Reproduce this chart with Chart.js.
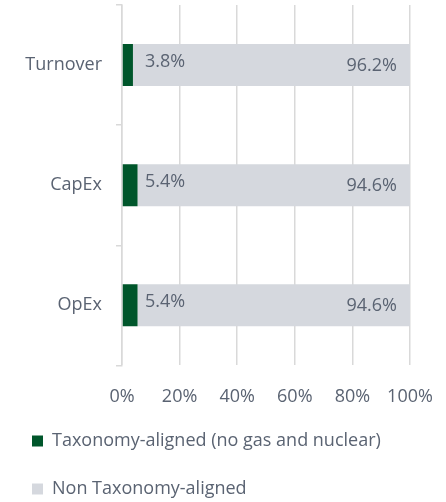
<!DOCTYPE html>
<html>
<head>
<meta charset="utf-8">
<script src="https://cdn.jsdelivr.net/npm/chart.js@4"></script>
<style>
  html, body { margin: 0; padding: 0; background: #fff; overflow: hidden; }
  #wrap { width: 446px; height: 508px; }
</style>
</head>
<body>
<div id="wrap"><canvas id="taxChart"></canvas></div>
<script>
const categories = ['Turnover', 'CapEx', 'OpEx'];
const alignedValues = [3.8, 5.4, 5.4];
const nonAlignedValues = [96.2, 94.6, 94.6];
const seriesNames = ['Taxonomy-aligned (no gas and nuclear)', 'Non Taxonomy-aligned'];

const textColor = '#5a6372';
const fontFamily = "'Open Sans', sans-serif";
const fontSize = 18;

// draws the percentage labels on the bars
const barLabels = {
  id: 'barLabels',
  afterDatasetsDraw(chart) {
    const c = chart.ctx;
    const x0 = chart.scales.x.getPixelForValue(0);
    c.save();
    c.font = fontSize + 'px ' + fontFamily;
    c.fillStyle = textColor;
    c.textBaseline = 'middle';
    chart.getDatasetMeta(0).data.forEach((bar, i) => {
      c.textAlign = 'left';
      c.fillText(alignedValues[i].toFixed(1) + '%', x0 + 23, bar.y - 3);
    });
    chart.getDatasetMeta(1).data.forEach((bar, i) => {
      c.textAlign = 'right';
      c.fillText(nonAlignedValues[i].toFixed(1) + '%', bar.x - 13, bar.y + 1);
    });
    c.restore();
  }
};

new Chart(document.getElementById('taxChart'), {
  type: 'bar',
  data: {
    labels: categories,
    datasets: [
      { label: seriesNames[0], data: alignedValues, backgroundColor: '#00562b', categoryPercentage: 0.35, barPercentage: 1 },
      { label: seriesNames[1], data: nonAlignedValues, backgroundColor: '#d5d8de', categoryPercentage: 0.35, barPercentage: 1 }
    ]
  },
  options: {
    indexAxis: 'y',
    responsive: true,
    maintainAspectRatio: false,
    animation: false,
    layout: { padding: { left: 2, right: 36, top: 5, bottom: 0 } },
    plugins: {
      tooltip: { enabled: false },
      legend: {
        position: 'bottom',
        align: 'start',
        labels: {
          boxWidth: 11,
          boxHeight: 11,
          padding: 30,
          color: textColor,
          font: { family: fontFamily, size: fontSize }
        }
      }
    },
    scales: {
      x: {
        stacked: true,
        min: 0,
        max: 100,
        afterFit: s => { s.paddingLeft = 0; s.paddingRight = 0; s.height -= 27; },
        ticks: {
          stepSize: 20,
          color: textColor,
          padding: 21,
          font: { family: fontFamily, size: fontSize },
          callback: v => v + '%'
        },
        grid: { color: '#d9d9d9', lineWidth: 1.5, drawTicks: false },
        border: { display: false }
      },
      y: {
        stacked: true,
        afterFit: s => { s.width = 120; s.paddingTop = 0; s.paddingBottom = 0; },
        ticks: {
          color: textColor,
          padding: 14,
          font: { family: fontFamily, size: fontSize }
        },
        grid: { drawOnChartArea: false, color: '#d9d9d9', lineWidth: 1.5, tickLength: 6 },
        border: { color: '#d9d9d9', width: 1.5 }
      }
    }
  },
  plugins: [barLabels]
});
</script>
</body>
</html>
